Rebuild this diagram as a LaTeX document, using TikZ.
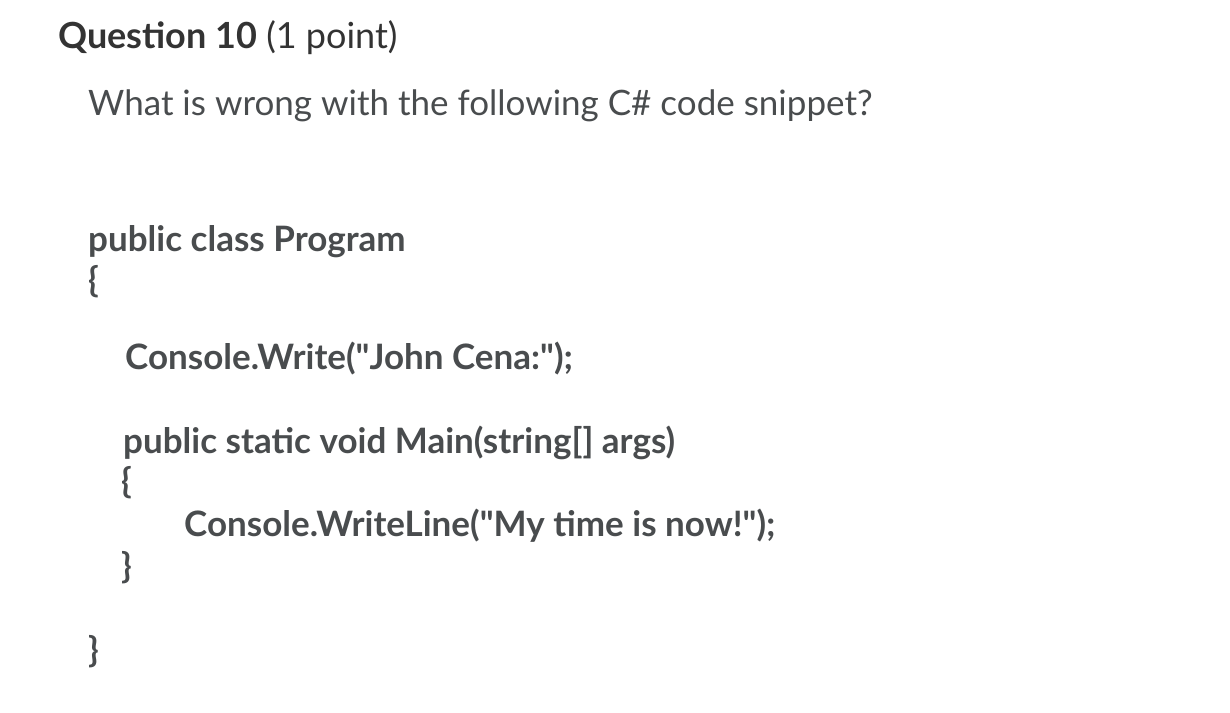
\documentclass[tikz,border=0pt]{standalone}
\usepackage{fontspec}
\setmainfont{Lato}
\begin{document}
\begin{tikzpicture}[x=1pt,y=-1pt,
  t/.style={anchor=base west,inner sep=0pt,text=txt},
  code/.style={t,font=\fontsize{35}{37}\selectfont\bfseries}]
\definecolor{txt}{HTML}{494C4E}
\definecolor{ttl}{HTML}{333333}
\useasboundingbox[fill=white] (0,0) rectangle (1230,712);
\node[t,text=ttl,font=\fontsize{36}{38}\selectfont] (q) at (58,48) {\textbf{Question 10} (1 point)};
\node[t,font=\fontsize{35}{37}\selectfont] (w) at (88,115) {What is wrong with the following C\# code snippet?};
\node[code] (l1) at (88,251) {public class Program};
\node[code] (l2) at (88,292) {\{};
\node[code] (l3) at (125,369) {Console.Write(\textquotedbl John Cena:\textquotedbl);};
\node[code] (l4) at (123,453) {public static void Main(string[] args)};
\node[code] (l5) at (121,493) {\{};
\node[code] (l6) at (184,536) {Console.WriteLine(\textquotedbl My time is now!\textquotedbl);};
\node[code] (l7) at (121,578) {\}};
\node[code] (l8) at (88,662) {\}};
\end{tikzpicture}
\end{document}
